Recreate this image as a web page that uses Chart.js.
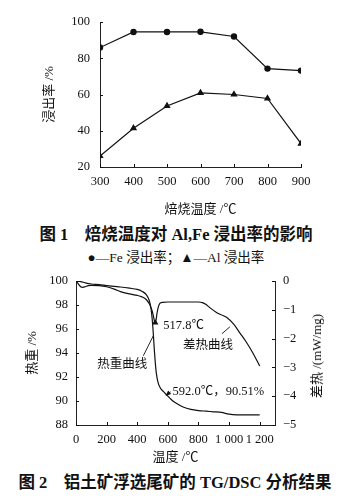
<!DOCTYPE html>
<html><head><meta charset="utf-8">
<script src="https://cdn.jsdelivr.net/npm/chart.js@4/dist/chart.umd.min.js"></script>
<style>
body{margin:0;width:352px;height:501px;background:#fff;position:relative;overflow:hidden;font-family:"Liberation Serif","Noto Sans CJK SC",serif;color:#111}
canvas{position:absolute;left:0}
.t{position:absolute;white-space:nowrap;line-height:18px}
</style></head><body>
<canvas id="c1" width="352" height="220" style="top:0"></canvas>
<div class="t" style="left:0;width:352px;text-align:center;top:226px;font-size:16.5px;font-weight:bold">图 1&nbsp;&nbsp;&nbsp;&nbsp;焙烧温度对 Al,Fe 浸出率的影响</div>
<div class="t" style="left:0;width:352px;text-align:center;top:249px;font-size:13.5px">●—Fe 浸出率；▲—Al 浸出率</div>
<canvas id="c2" width="352" height="210" style="top:260px"></canvas>
<div class="t" style="left:317px;top:356px;font-size:13px;transform:translate(-50%,-50%) rotate(-90deg)">差热 /(mW/mg)</div>
<div class="t" style="left:0;width:350px;text-align:center;top:474px;font-size:16.5px;font-weight:bold">图 2&nbsp;&nbsp;&nbsp;&nbsp;铝土矿浮选尾矿的 TG/DSC 分析结果</div>
<script>
// ---- Figure 1 data ----
const temps1 = [300, 400, 500, 600, 700, 800, 900];
const feRate = [85.9, 94.5, 94.5, 94.6, 92.0, 74.3, 73.2];
const alRate = [26.1, 41.4, 53.7, 60.9, 60.0, 57.8, 32.9];
const yTicks1 = [20, 40, 60, 80, 100];

// ---- Figure 2 data ----
const tgTemp = [0, 30, 60, 100, 150, 200, 250, 290, 350, 400, 430, 460, 478, 490, 498, 505, 512, 518, 525, 535, 550, 570, 592, 620, 650, 700, 750, 800, 850, 900, 950, 1000, 1050, 1100, 1200];
const tgVal  = [100, 99.95, 99.85, 99.75, 99.7, 99.62, 99.55, 99.5, 99.4, 99.3, 99.15, 98.85, 98.4, 97.7, 96.8, 95.6, 94.2, 93.2, 92.3, 91.6, 91.1, 90.8, 90.51, 90.15, 89.85, 89.5, 89.3, 89.2, 89.15, 89.1, 89.05, 88.9, 88.85, 88.85, 88.85];
const dscTemp = [0, 15, 30, 45, 60, 80, 100, 150, 200, 250, 290, 350, 400, 430, 460, 480, 495, 505, 512, 517.8, 523, 530, 538, 548, 565, 600, 700, 800, 825, 850, 875, 920, 960, 985, 1030, 1070, 1110, 1150, 1200];
const dscVal  = [0, -0.1, -0.2, -0.22, -0.2, -0.16, -0.15, -0.16, -0.2, -0.28, -0.37, -0.45, -0.5, -0.55, -0.65, -0.8, -1.0, -1.2, -1.38, -1.45, -1.35, -1.1, -0.9, -0.78, -0.74, -0.73, -0.73, -0.73, -0.75, -0.82, -0.93, -1.1, -1.2, -1.27, -1.5, -1.8, -2.1, -2.45, -2.95];
const xTicks2 = [0, 200, 400, 600, 800, 1000, 1200];
const xTickLabels2 = ['0', '200', '400', '600', '800', '1 000', '1 200'];
const yTicks2 = [88, 90, 92, 94, 96, 98, 100];
const y2Ticks2 = [-5, -4, -3, -2, -1, 0];

const FAM = '"Liberation Serif","Noto Sans CJK SC",serif';
const INK = '#111';

const inTicks = {
  id: 'inTicks',
  afterDatasetsDraw(chart) {
    const ctx = chart.ctx; ctx.save();
    ctx.strokeStyle = INK; ctx.lineWidth = 1;
    for (const id in chart.scales) {
      const s = chart.scales[id]; const L = 3;
      s.ticks.forEach(t => {
        const p = Math.round(s.getPixelForValue(t.value)) + 0.5;
        ctx.beginPath();
        if (s.isHorizontal()) { ctx.moveTo(p, s.top); ctx.lineTo(p, s.top - L); }
        else if (s.position === 'left') { ctx.moveTo(s.right, p); ctx.lineTo(s.right + L, p); }
        else { ctx.moveTo(s.left, p); ctx.lineTo(s.left - L, p); }
        ctx.stroke();
      });
    }
    ctx.restore();
  }
};

const setTicks = arr => s => { s.ticks = arr.map(v => ({ value: v })); };
const tickBase = { color: INK, font: { family: FAM, size: 12.5 }, maxRotation: 0, minRotation: 0, autoSkip: false };

new Chart(document.getElementById('c1'), {
  type: 'line',
  data: {
    datasets: [
      { label: 'Fe 浸出率', data: temps1.map((t, i) => ({ x: t, y: feRate[i] })), borderColor: INK, backgroundColor: INK, borderWidth: 1.2, pointStyle: 'circle', pointRadius: 2.6, tension: 0 },
      { label: 'Al 浸出率', data: temps1.map((t, i) => ({ x: t, y: alRate[i] })), borderColor: INK, backgroundColor: INK, borderWidth: 1.2, pointStyle: 'triangle', pointRadius: 3, tension: 0 }
    ]
  },
  options: {
    responsive: false, animation: false, devicePixelRatio: 1,
    layout: { padding: { left: 0, right: 51, top: 22, bottom: 0 } },
    plugins: { legend: { display: false }, tooltip: { enabled: false } },
    scales: {
      x: {
        type: 'linear', min: 300, max: 900,
        afterBuildTicks: setTicks(temps1),
        afterFit: s => { s.height = 53; },
        grid: { display: false, drawTicks: false },
        border: { display: true, color: '#222', width: 1 },
        ticks: { ...tickBase, padding: 7, callback: v => String(v) },
        title: { display: true, text: '焙烧温度 /℃', color: INK, font: { family: FAM, size: 13 }, padding: { top: 0, bottom: 3 } }
      },
      y: {
        min: 20, max: 100,
        afterBuildTicks: setTicks(yTicks1),
        afterFit: s => { s.width = 100; },
        grid: { display: false, drawTicks: false },
        border: { display: true, color: '#222', width: 1 },
        ticks: { ...tickBase, padding: 10 },
        title: { display: true, text: '浸出率 /%', color: INK, font: { family: FAM, size: 13 }, padding: { top: 42, bottom: 0 } }
      }
    }
  },
  plugins: [inTicks]
});

const notes = {
  id: 'notes',
  afterDatasetsDraw(chart) {
    const ctx = chart.ctx, sx = chart.scales.x;
    const P = (x, y, ax) => [sx.getPixelForValue(x), chart.scales[ax].getPixelForValue(y)];
    ctx.save();
    ctx.fillStyle = INK; ctx.strokeStyle = INK; ctx.lineWidth = 0.9;
    ctx.font = '12.5px ' + FAM; ctx.textBaseline = 'middle';
    // 517.8 ℃ peak
    let [ax, ay] = P(517.8, -1.45, 'y2');
    ctx.textAlign = 'left'; ctx.fillText('517.8℃', ax + 8, ay + 3);
    // DSC label
    [ax, ay] = P(1012, -1.52, 'y2');
    ctx.beginPath(); ctx.moveTo(ax - 1, ay + 2); ctx.lineTo(ax - 9, ay + 9); ctx.stroke();
    ctx.textAlign = 'center'; ctx.fillText('差热曲线', ax - 23, ay + 21);
    // TG label
    [ax, ay] = P(505, 95.6, 'y');
    ctx.beginPath(); ctx.moveTo(ax, ay + 2); ctx.lineTo(ax - 10, ay + 22); ctx.stroke();
    ctx.fillText('热重曲线', ax - 31, ay + 31);
    // 592 point
    [ax, ay] = P(592, 90.51, 'y');
    ctx.beginPath(); ctx.moveTo(ax + 4, ay - 3); ctx.lineTo(ax, ay); ctx.stroke();
    ctx.beginPath(); ctx.moveTo(ax - 1, ay + 1); ctx.lineTo(ax + 4.5, ay - 1); ctx.lineTo(ax + 1.5, ay - 4.5); ctx.closePath(); ctx.fill();
    ctx.textAlign = 'left'; ctx.fillText('592.0℃，90.51%', ax + 6, ay - 3);
    ctx.restore();
  }
};

new Chart(document.getElementById('c2'), {
  type: 'line',
  data: {
    datasets: [
      { label: '热重曲线', yAxisID: 'y', data: tgTemp.map((t, i) => ({ x: t, y: tgVal[i] })), borderColor: INK, borderWidth: 1.2, pointRadius: 0, cubicInterpolationMode: 'monotone' },
      { label: '差热曲线', yAxisID: 'y2', data: dscTemp.map((t, i) => ({ x: t, y: dscVal[i] })), borderColor: INK, backgroundColor: INK, borderWidth: 1.2, pointStyle: 'triangle', pointRadius: c => dscTemp[c.dataIndex] === 517.8 ? 2.5 : 0, cubicInterpolationMode: 'monotone' }
    ]
  },
  options: {
    responsive: false, animation: false, devicePixelRatio: 1,
    layout: { padding: { left: 0, right: 0, top: 21, bottom: 0 } },
    plugins: { legend: { display: false }, tooltip: { enabled: false } },
    scales: {
      x: {
        type: 'linear', min: 0, max: 1300,
        afterBuildTicks: setTicks(xTicks2),
        afterFit: s => { s.height = 45; },
        grid: { display: false, drawTicks: false },
        border: { display: true, color: '#222', width: 1 },
        ticks: { ...tickBase, padding: 7, callback: v => xTickLabels2[xTicks2.indexOf(v)] },
        title: { display: true, text: '温度 /℃', color: INK, font: { family: FAM, size: 13 }, padding: { top: 0, bottom: 5 } }
      },
      y: {
        position: 'left', min: 88, max: 100,
        afterBuildTicks: setTicks(yTicks2),
        afterFit: s => { s.width = 76; },
        grid: { display: false, drawTicks: false },
        border: { display: true, color: '#222', width: 1 },
        ticks: { ...tickBase, padding: 8 },
        title: { display: true, text: '热重 /%', color: INK, font: { family: FAM, size: 13 }, padding: { top: 25, bottom: 0 } }
      },
      y2: {
        position: 'right', min: -5, max: 0,
        afterBuildTicks: setTicks(y2Ticks2),
        afterFit: s => { s.width = 77; },
        grid: { display: false, drawTicks: false },
        border: { display: true, color: '#222', width: 1 },
        ticks: { ...tickBase, padding: 8, callback: v => v === 0 ? '0' : '−' + Math.abs(v) }
      }
    }
  },
  plugins: [inTicks, notes]
});
</script>
</body></html>
